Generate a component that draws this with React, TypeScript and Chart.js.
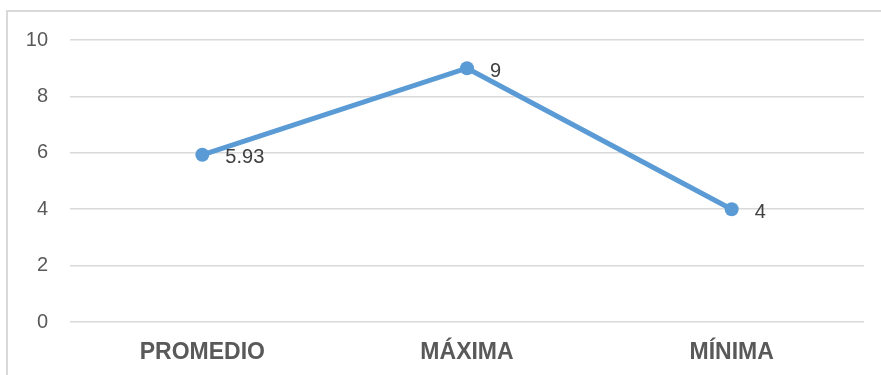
import React, { useEffect, useRef } from "react";
import { Chart, registerables } from "chart.js";

Chart.register(...registerables);

const categories = ["PROMEDIO", "MÁXIMA", "MÍNIMA"];
const values = [5.93, 9, 4];
const pointLabels = ["5.93", "9", "4"];

const FONT = "'Liberation Sans', Arial, sans-serif";

const valueLabels = {
  id: "valueLabels",
  afterDatasetsDraw(chart: any) {
    const ctx = chart.ctx;
    const meta = chart.getDatasetMeta(0);
    ctx.save();
    ctx.font = `20px ${FONT}`;
    ctx.fillStyle = "#404040";
    ctx.textAlign = "left";
    ctx.textBaseline = "middle";
    meta.data.forEach((pt: any, i: number) => {
      ctx.fillText(pointLabels[i], pt.x + 23, pt.y + 3);
    });
    ctx.restore();
  },
};

export default function App() {
  const ref = useRef<HTMLCanvasElement>(null);

  useEffect(() => {
    const chart = new Chart(ref.current!, {
      type: "line",
      data: {
        labels: categories,
        datasets: [
          {
            data: values,
            borderColor: "#5b9bd5",
            backgroundColor: "#5b9bd5",
            borderWidth: 5,
            pointRadius: 7,
            pointBackgroundColor: "#5b9bd5",
            pointBorderWidth: 0,
            tension: 0,
          },
        ],
      },
      options: {
        responsive: false,
        animation: false,
        layout: { padding: { top: 40, right: 17, left: 0, bottom: 0 } },
        plugins: { legend: { display: false }, tooltip: { enabled: false } },
        scales: {
          x: {
            offset: true,
            grid: { display: false },
            border: { display: false },
            ticks: {
              padding: 9,
              color: "#595959",
              font: { family: FONT, size: 23, weight: "bold" },
            },
            afterFit(s: any) {
              s.height = 53;
            },
          },
          y: {
            min: 0,
            max: 10,
            ticks: {
              stepSize: 2,
              padding: 22,
              color: "#595959",
              font: { family: FONT, size: 20 },
            },
            grid: { color: "#d9d9d9", lineWidth: 1.5, drawTicks: false },
            border: { display: false },
            afterFit(s: any) {
              s.width = 70;
            },
          },
        },
      },
      plugins: [valueLabels],
    });
    return () => chart.destroy();
  }, []);

  return (
    <div
      style={{
        position: "fixed",
        left: 0,
        top: 0,
        width: 881,
        height: 375,
        background: "#fff",
        overflow: "hidden",
      }}
    >
      <div
        style={{
          position: "absolute",
          left: 6,
          top: 10,
          width: 900,
          height: 400,
          border: "2px solid #d9d9d9",
        }}
      />
      <canvas
        ref={ref}
        width={881}
        height={375}
        style={{ position: "absolute", left: 0, top: 0 }}
      />
    </div>
  );
}
